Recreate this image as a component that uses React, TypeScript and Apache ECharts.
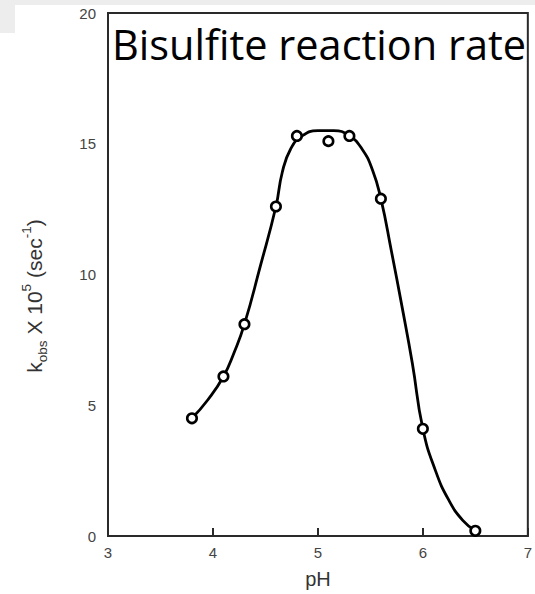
import React, { useEffect, useRef } from "react";
import * as echarts from "echarts";

// measured points
const pH = [3.8, 4.1, 4.3, 4.6, 4.8, 5.1, 5.3, 5.6, 6.0, 6.5];
const kobs = [4.5, 6.1, 8.1, 12.6, 15.3, 15.1, 15.3, 12.9, 4.1, 0.2];
// drawn fit curve
const curvePH = [3.8, 3.95, 4.1, 4.2, 4.3, 4.45, 4.6, 4.66, 4.74, 4.85, 5.0, 5.15, 5.3, 5.42, 5.52, 5.6, 5.7, 5.8, 5.9, 6.0, 6.12, 6.25, 6.38, 6.5];
const curveK = [4.5, 5.2, 6.1, 7.0, 8.1, 10.3, 12.6, 13.9, 14.8, 15.3, 15.5, 15.5, 15.3, 14.8, 14.0, 12.9, 10.9, 8.8, 6.6, 4.1, 2.5, 1.35, 0.6, 0.2];
const xTicks = [3, 4, 5, 6, 7];
const yTicks = [0, 5, 10, 15, 20];
const titleText = "Bisulfite reaction rate";
const xName = "pH";

export default function App() {
  const ref = useRef<HTMLDivElement>(null);
  useEffect(() => {
    const chart = echarts.init(ref.current!, null, { renderer: "svg" });
    const pts = pH.map((x, i) => [x, kobs[i]]);
    const curve = curvePH.map((x, i) => [x, curveK[i]]);
    const nameFont = "Liberation Sans";
    chart.setOption({
      animation: false,
      backgroundColor: "#ffffff",
      title: {
        text: titleText,
        left: 107,
        top: 18,
        textStyle: { fontFamily: "Open Sans", fontSize: 41.5, fontWeight: "normal", color: "#000" },
      },
      graphic: [
        { type: "rect", left: 0, top: 0, shape: { width: 535, height: 5 }, style: { fill: "#ededed" }, z: -1 },
        { type: "rect", left: 0, top: 0, shape: { width: 15, height: 33 }, style: { fill: "#ededed" }, z: -1 },
        {
          type: "text",
          x: 34,
          y: 296,
          rotation: Math.PI / 2,
          style: {
            text: "{n|k}{s|obs}{n| X 10}{p|5}{n| (sec}{p|-1}{n|)}",
            align: "center",
            verticalAlign: "middle",
            rich: {
              n: { fontFamily: nameFont, fontSize: 21, fill: "#333", lineHeight: 30, verticalAlign: "middle" },
              s: { fontFamily: nameFont, fontSize: 13.5, fill: "#333", lineHeight: 30, verticalAlign: "bottom" },
              p: { fontFamily: nameFont, fontSize: 13.5, fill: "#333", lineHeight: 30, verticalAlign: "top" },
            },
          },
        },
      ],
      grid: {
        left: 108,
        right: 7,
        top: 13,
        bottom: 58,
        show: true,
        borderColor: "#2a2a2a",
        borderWidth: 2,
        backgroundColor: "transparent",
      },
      xAxis: {
        type: "value",
        min: xTicks[0],
        max: xTicks[xTicks.length - 1],
        interval: 1,
        name: xName,
        nameLocation: "middle",
        nameGap: 33,
        nameTextStyle: { fontFamily: nameFont, fontSize: 20, color: "#333" },
        axisLine: { show: true, lineStyle: { color: "#2a2a2a", width: 2 } },
        axisTick: { show: true, inside: true, length: 8, lineStyle: { color: "#2a2a2a", width: 2 } },
        axisLabel: { fontFamily: nameFont, fontSize: 15, color: "#444", margin: 9 },
        splitLine: { show: false },
      },
      yAxis: {
        type: "value",
        min: yTicks[0],
        max: yTicks[yTicks.length - 1],
        interval: 5,
        axisLine: { show: true, lineStyle: { color: "#2a2a2a", width: 2 } },
        axisTick: { show: false },
        axisLabel: { fontFamily: nameFont, fontSize: 15, color: "#444", margin: 12 },
        splitLine: { show: false },
      },
      series: [
        {
          type: "line",
          data: curve,
          smooth: 0.5,
          showSymbol: false,
          lineStyle: { color: "#000", width: 2.8 },
          z: 2,
        },
        {
          type: "scatter",
          data: pts,
          symbol: "circle",
          symbolSize: 9.5,
          itemStyle: { color: "#fff", borderColor: "#000", borderWidth: 2.6, opacity: 1 },
          z: 3,
        },
      ],
    });
    return () => chart.dispose();
  }, []);
  return <div ref={ref} style={{ position: "fixed", left: 0, top: 0, width: 535, height: 594 }} />;
}
